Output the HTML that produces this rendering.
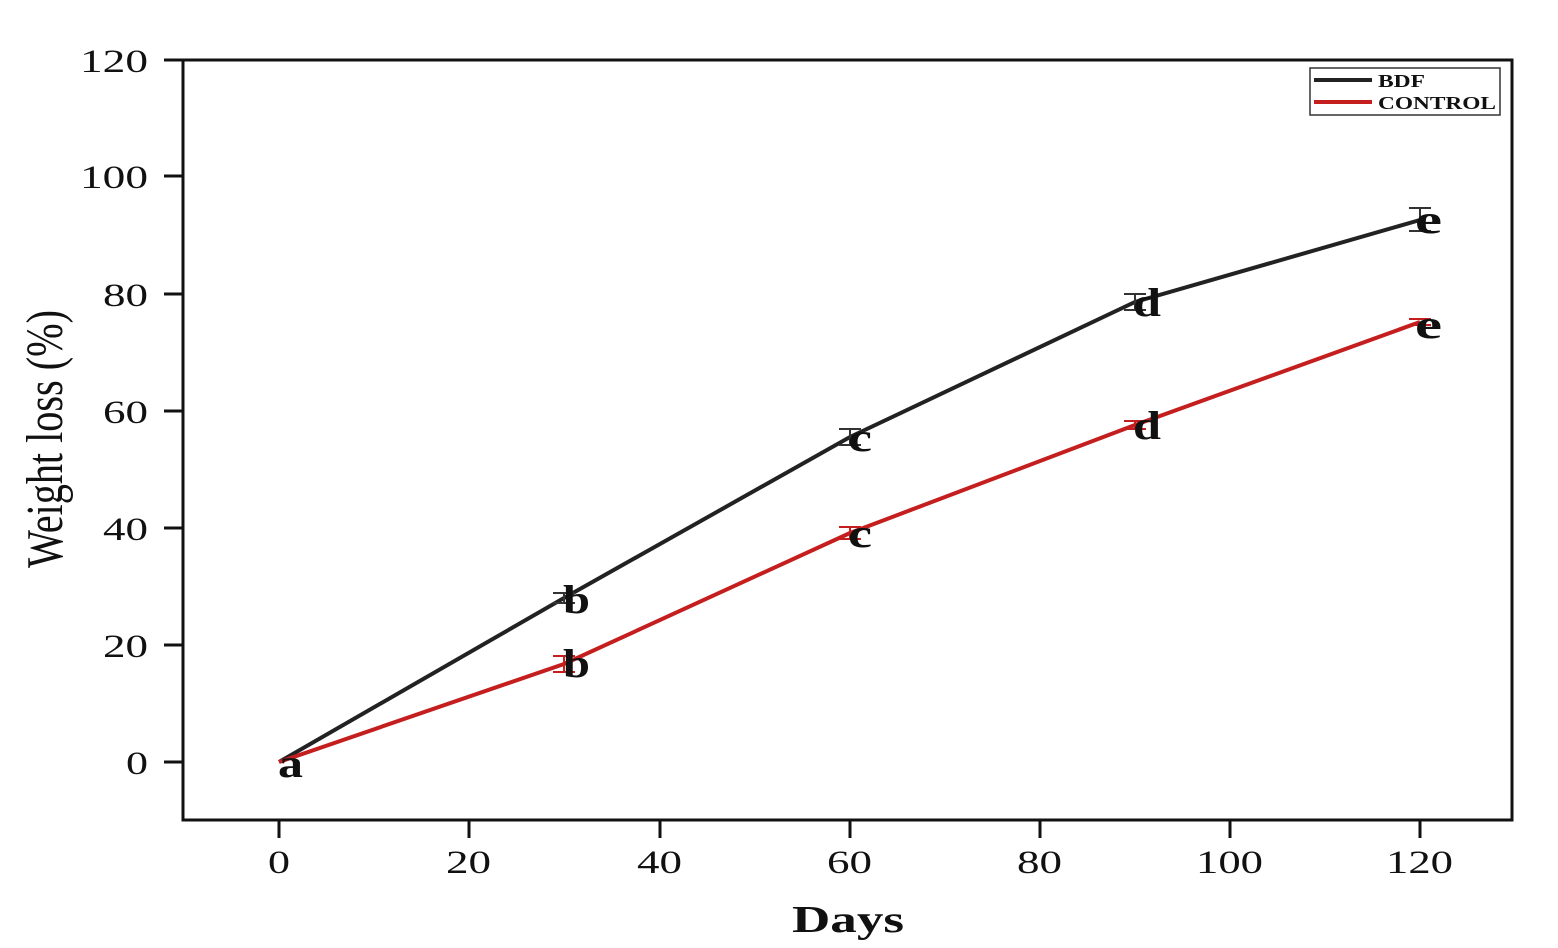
<!DOCTYPE html>
<html><head><meta charset="utf-8"><style>
html,body{margin:0;padding:0;background:#fff;}
svg{display:block;}
text{font-family:"Liberation Serif",serif;fill:#111;}
</style></head><body>
<svg width="1558" height="948" viewBox="0 0 1558 948" xmlns="http://www.w3.org/2000/svg">
<rect x="0" y="0" width="1558" height="948" fill="#fff"/>
<rect x="183" y="60" width="1329" height="760" fill="none" stroke="#111" stroke-width="3"/>
<g stroke="#111" stroke-width="3">
<line x1="164" y1="60" x2="183" y2="60"/><line x1="164" y1="176" x2="183" y2="176"/><line x1="164" y1="294" x2="183" y2="294"/><line x1="164" y1="411" x2="183" y2="411"/><line x1="164" y1="528" x2="183" y2="528"/><line x1="164" y1="645" x2="183" y2="645"/><line x1="164" y1="762" x2="183" y2="762"/>
<line x1="279" y1="820" x2="279" y2="838"/><line x1="469" y1="820" x2="469" y2="838"/><line x1="660" y1="820" x2="660" y2="838"/><line x1="850" y1="820" x2="850" y2="838"/><line x1="1040" y1="820" x2="1040" y2="838"/><line x1="1230" y1="820" x2="1230" y2="838"/><line x1="1420" y1="820" x2="1420" y2="838"/>
</g>
<g font-size="33">
<text x="80" y="72" textLength="68" lengthAdjust="spacingAndGlyphs">120</text>
<text x="80" y="188" textLength="68" lengthAdjust="spacingAndGlyphs">100</text>
<text x="103" y="306" textLength="45" lengthAdjust="spacingAndGlyphs">80</text>
<text x="103" y="423" textLength="45" lengthAdjust="spacingAndGlyphs">60</text>
<text x="103" y="540" textLength="45" lengthAdjust="spacingAndGlyphs">40</text>
<text x="103" y="657" textLength="45" lengthAdjust="spacingAndGlyphs">20</text>
<text x="126" y="774" textLength="22" lengthAdjust="spacingAndGlyphs">0</text>
</g>
<g font-size="33">
<text x="268" y="873" textLength="22" lengthAdjust="spacingAndGlyphs">0</text>
<text x="446" y="873" textLength="45" lengthAdjust="spacingAndGlyphs">20</text>
<text x="637" y="873" textLength="45" lengthAdjust="spacingAndGlyphs">40</text>
<text x="827" y="873" textLength="45" lengthAdjust="spacingAndGlyphs">60</text>
<text x="1017" y="873" textLength="45" lengthAdjust="spacingAndGlyphs">80</text>
<text x="1196" y="873" textLength="67" lengthAdjust="spacingAndGlyphs">100</text>
<text x="1386" y="873" textLength="67" lengthAdjust="spacingAndGlyphs">120</text>
</g>
<text x="792" y="932" font-size="38" font-weight="bold" textLength="112" lengthAdjust="spacingAndGlyphs">Days</text>
<text transform="translate(62,568) rotate(-90)" font-size="52" textLength="258" lengthAdjust="spacingAndGlyphs">Weight loss (%)</text>
<polyline points="279,762 564,598 850,437 1135,302 1420,220" fill="none" stroke="#222" stroke-width="4"/>
<polyline points="279,762 564,664 850,533 1135,425 1420,322" fill="none" stroke="#c41e1e" stroke-width="4"/>
<g stroke="#333" stroke-width="2">
<path d="M553,593h22M553,603h22M564,593v10M839,429h22M839,445h22M850,429v16M1124,294h22M1124,310h22M1135,294v16M1409,208h22M1409,231h22M1420,208v23"/>
</g>
<g stroke="#c41e1e" stroke-width="2">
<path d="M553,656h22M553,672h22M564,656v16M839,527h22M839,539h22M850,527v12M1124,421h22M1124,429h22M1135,421v8M1409,319h22M1409,325h22"/>
</g>
<g font-size="40" font-weight="bold">
<text x="278" y="777" textLength="25" lengthAdjust="spacingAndGlyphs">a</text>
<text x="563" y="613" textLength="27" lengthAdjust="spacingAndGlyphs">b</text>
<text x="563" y="677" textLength="27" lengthAdjust="spacingAndGlyphs">b</text>
<text x="848" y="451" textLength="24" lengthAdjust="spacingAndGlyphs">c</text>
<text x="848" y="547" textLength="24" lengthAdjust="spacingAndGlyphs">c</text>
<text x="1133" y="316" textLength="28" lengthAdjust="spacingAndGlyphs">d</text>
<text x="1133" y="439" textLength="28" lengthAdjust="spacingAndGlyphs">d</text>
<text x="1415" y="233" textLength="27" lengthAdjust="spacingAndGlyphs">e</text>
<text x="1415" y="338" textLength="27" lengthAdjust="spacingAndGlyphs">e</text>
</g>
<rect x="1310" y="68" width="190" height="47" fill="#fff" stroke="#333" stroke-width="1.5"/>
<line x1="1314" y1="80" x2="1372" y2="80" stroke="#222" stroke-width="4"/>
<line x1="1314" y1="102" x2="1372" y2="102" stroke="#c41e1e" stroke-width="4"/>
<text x="1378" y="87" font-size="18" font-weight="bold" textLength="47" lengthAdjust="spacingAndGlyphs">BDF</text>
<text x="1378" y="109" font-size="18" font-weight="bold" textLength="118" lengthAdjust="spacingAndGlyphs">CONTROL</text>
</svg>
</body></html>
